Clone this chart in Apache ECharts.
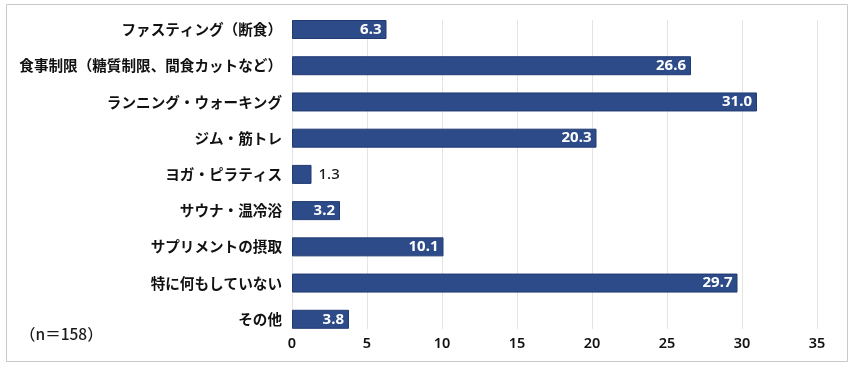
<!DOCTYPE html>
<html>
<head>
<meta charset="utf-8">
<script src="https://cdn.jsdelivr.net/npm/echarts@6/dist/echarts.min.js"></script>
<style>
html,body{margin:0;padding:0;background:#fff;}
#chart{width:858px;height:368px;}
</style>
</head>
<body>
<div id="chart"></div>
<script>
const categories = [
  'ファスティング（断食）',
  '食事制限（糖質制限、間食カットなど）',
  'ランニング・ウォーキング',
  'ジム・筋トレ',
  'ヨガ・ピラティス',
  'サウナ・温冷浴',
  'サプリメントの摂取',
  '特に何もしていない',
  'その他'
];
const values = [6.3, 26.6, 31.0, 20.3, 1.3, 3.2, 10.1, 29.7, 3.8];
const axisMin = 0, axisMax = 35, axisStep = 5;
const noteText = '（n＝158）';

const barColor = '#2E4B89';
const borderColor = '#203A72';
const cjk = '"Noto Sans CJK JP", "Noto Sans", sans-serif';
const num = '"Noto Sans", "Open Sans", sans-serif';

const chart = echarts.init(document.getElementById('chart'), null, {renderer: 'canvas'});

const barData = values.map(v => {
  const item = {value: v};
  if (v < 2) {
    item.label = {position: 'right', distance: 7, color: '#1a1a1a', fontWeight: 500, fontSize: 15};
  }
  return item;
});

chart.setOption({
  animation: false,
  backgroundColor: '#fff',
  graphic: [
    {type: 'rect', shape: {x: 6.5, y: 4.5, width: 841, height: 357}, style: {fill: 'none', stroke: '#c9c9c9', lineWidth: 1}, z: -10},
    {type: 'text', left: 20, top: 326, style: {text: noteText, fontFamily: cjk, fontSize: 15.5, fontWeight: 500, fill: '#1a1a1a'}}
  ],
  grid: [
    {left: 292, right: 41, top: 11.4, height: 326},
    {left: 292, right: 41, top: 20, height: 309}
  ],
  xAxis: [
    {gridIndex: 0, type: 'value', min: axisMin, max: axisMax, interval: axisStep, show: false},
    {gridIndex: 1, type: 'value', min: axisMin, max: axisMax, interval: axisStep,
     axisLine: {show: false}, axisTick: {show: false},
     splitLine: {show: true, lineStyle: {color: '#e4e4e4', width: 1}},
     axisLabel: {color: '#111', fontSize: 14.5, fontWeight: 600, fontFamily: num, margin: 7}}
  ],
  yAxis: [
    {gridIndex: 0, type: 'category', inverse: true, data: categories,
     axisLine: {show: false}, axisTick: {show: false}, splitLine: {show: false},
     axisLabel: {color: '#111', fontSize: 14.6, fontWeight: 'bold', fontFamily: cjk, margin: 10}},
    {gridIndex: 1, type: 'category', inverse: true, data: categories, show: false}
  ],
  series: [
    {type: 'bar', xAxisIndex: 0, yAxisIndex: 0, data: barData, barWidth: 19,
     itemStyle: {color: barColor, borderColor: borderColor, borderWidth: 1},
     label: {show: true, position: 'insideRight', distance: 5, color: '#fff', fontWeight: 'bold',
             fontSize: 15, fontFamily: num, formatter: p => p.value.toFixed(1)},
     z: 3},
    {type: 'bar', xAxisIndex: 1, yAxisIndex: 1, data: [], silent: true}
  ]
});
</script>
</body>
</html>
